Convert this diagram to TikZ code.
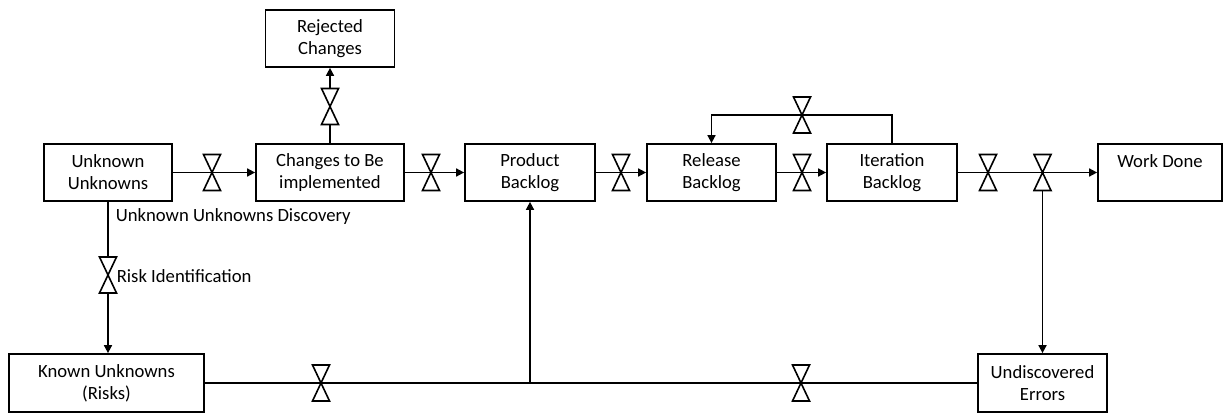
\documentclass[tikz,border=0pt]{standalone}
\usepackage{fontspec}
\setmainfont{Carlito}
\usetikzlibrary{arrows.meta,calc}
\begin{document}
\begin{tikzpicture}[x=0.75pt,y=-0.75pt,
  line width=1.2pt,
  box/.style={draw,line width=1.3pt,rectangle,align=center,inner sep=0pt,
    minimum height=42.75pt,font=\fontsize{14}{16.5}\selectfont},
  flow/.style={-{Triangle[length=6pt,width=6pt]}},
  lbl/.style={anchor=west,inner sep=0pt,font=\fontsize{14}{16}\selectfont},
  valvestyle/.style={draw,fill=white,line width=1.2pt,line join=miter}]
\useasboundingbox (0,0) rectangle (1223,413);
% boxes
\node[box,minimum width=96.75pt] (rej) at (330,38.5) {Rejected\\Changes};
\node[box,minimum width=96pt] (uu) at (108,172.5) {Unknown\\Unknowns};
\node[box,minimum width=111pt] (chg) at (330,172.5) {Changes to Be\\implemented};
\node[box,minimum width=97.5pt] (pb) at (530,172.5) {Product\\Backlog};
\node[box,minimum width=96.75pt] (rb) at (711.5,172.5) {Release\\Backlog};
\node[box,minimum width=97.5pt] (ib) at (892,172.5) {Iteration\\Backlog};
\node[box,minimum width=93pt] (wd) at (1160,172.5) {Work Done\\\phantom{W}};
\node[box,minimum width=146.25pt,minimum height=43.5pt] (ku) at (106.5,383) {Known Unknowns\\(Risks)};
\node[box,minimum width=96.75pt,minimum height=43.5pt] (ue) at (1042.5,383) {Undiscovered\\Errors};
% valve coordinates
\coordinate (v1) at (212,172.5);
\coordinate (v2) at (330,106.5);
\coordinate (v3) at (431,172.5);
\coordinate (v4) at (621,172.5);
\coordinate (v5) at (802,172.5);
\coordinate (v6) at (802,115);
\coordinate (v7) at (988,172.5);
\coordinate (v8) at (1042.5,172.5);
\coordinate (v9) at (108,275);
\coordinate (v10) at (321,383);
\coordinate (v11) at (801,383);
\coordinate (j) at (530,383);
% connectors
\draw[flow] (uu.east) -- (v1) -- (chg.west);
\draw[flow] (chg.north) -- (v2) -- (rej.south);
\draw[flow] (chg.east) -- (v3) -- (pb.west);
\draw[flow] (pb.east) -- (v4) -- (rb.west);
\draw[flow] (rb.east) -- (v5) -- (ib.west);
\draw[flow] (ib.north) |- (v6) -| (rb.north);
\draw[flow] (ib.east) -- (v7) -- (v8) -- (wd.west);
\draw[flow] (v8) -- (ue.north);
\draw[flow] (uu.south) -- (v9) -- (uu.south |- ku.north);
\draw (ku.east) -- (v10) -- (j) -- (v11) -- (ue.west);
\draw[flow] (j) -- (pb.south);
% valves
\foreach \v in {v1,v2,v3,v4,v5,v6,v7,v8,v9,v10,v11}{
  \draw[valvestyle] ($(\v)+(-8.5,-18)$) -- ($(\v)+(8.5,-18)$) -- ($(\v)+(-8.5,18)$) -- ($(\v)+(8.5,18)$) -- cycle;
}
% labels
\node[lbl] (l1) at (115,216.5) {Unknown Unknowns Discovery};
\node[lbl] (l2) at (116,276.5) {Risk Identification};
\end{tikzpicture}
\end{document}
